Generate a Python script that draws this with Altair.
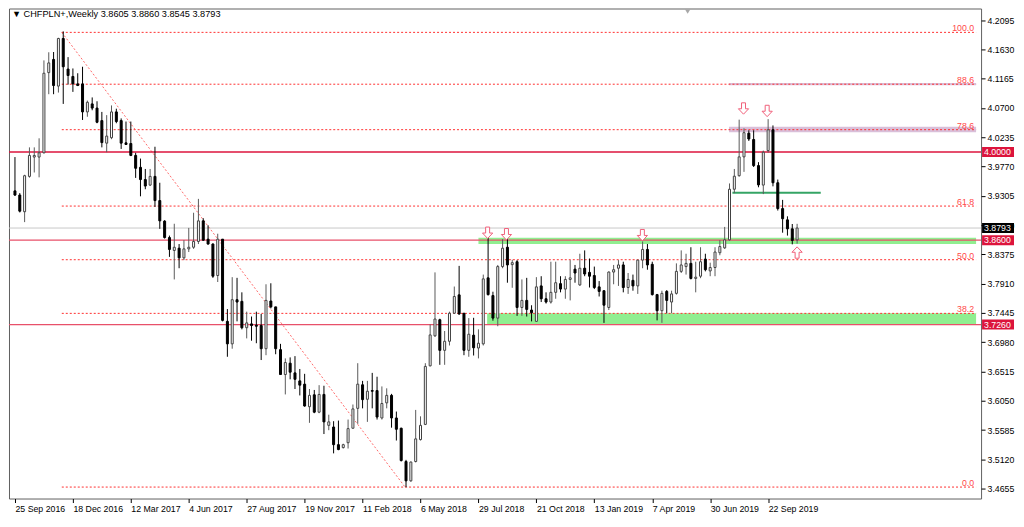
import altair as alt
import pandas as pd

W, H = 974, 491
FONT = "Liberation Sans"

# ---- axis ticks ----
tick_weeks = [0, 12, 24, 36, 48, 60, 72, 84, 96, 108, 120, 132, 144, 156]
tick_labels = ["25 Sep 2016", "18 Dec 2016", "12 Mar 2017", "4 Jun 2017", "27 Aug 2017",
               "19 Nov 2017", "11 Feb 2018", "6 May 2018", "29 Jul 2018", "21 Oct 2018",
               "13 Jan 2019", "7 Apr 2019", "30 Jun 2019", "22 Sep 2019"]
price_ticks = [4.2095, 4.1630, 4.1165, 4.0700, 4.0235, 3.9770, 3.9305, 3.8840, 3.8375,
               3.7910, 3.7445, 3.6980, 3.6515, 3.6050, 3.5585, 3.5120, 3.4655]

# ---- weekly candles CHFPLN (week index 0 = 25 Sep 2016) ----
opens = [3.9383, 3.9317, 3.9052, 3.9613, 3.9920, 3.9920, 3.9988, 4.1261, 4.1470, 4.1047,
         4.1803, 4.1317, 4.1200, 4.1082, 4.1082, 4.0637, 4.0764, 4.0698, 4.0499, 4.0141,
         4.0227, 4.0637, 4.0499, 4.0146, 4.0135, 3.9946, 3.9757, 3.9563, 3.9475, 3.9613,
         3.9229, 3.8903, 3.8642, 3.8437, 3.8473, 3.8320, 3.8462, 3.8488, 3.8580, 3.8907,
         3.8616, 3.8539, 3.8039, 3.8616, 3.7311, 3.6954, 3.7655, 3.7629, 3.7210, 3.7271,
         3.7250, 3.7245, 3.6877, 3.7634, 3.7541, 3.6862, 3.6467, 3.6647, 3.6493, 3.6366,
         3.6314, 3.5956, 3.6145, 3.5869, 3.6151, 3.5660, 3.5634, 3.5353, 3.5307, 3.5384,
         3.5614, 3.5930, 3.6304, 3.6074, 3.6212, 3.6212, 3.5777, 3.6017, 3.6136, 3.5777,
         3.5614, 3.5086, 3.4779, 3.5086, 3.5434, 3.5675, 3.6605, 3.7081, 3.7337, 3.6851,
         3.6995, 3.7440, 3.7732, 3.7440, 3.6851, 3.7092, 3.6888, 3.6954, 3.8002, 3.7721,
         3.7363, 3.8181, 3.8488, 3.8212, 3.8258, 3.7532, 3.7644, 3.7491, 3.7311, 3.7874,
         3.7670, 3.7618, 3.7772, 3.7910, 3.7824, 3.7977, 3.8140, 3.7890, 3.8155, 3.8089,
         3.8039, 3.7859, 3.7798, 3.7532, 3.8094, 3.8155, 3.8207, 3.7849, 3.7962, 3.7874,
         3.8284, 3.8453, 3.8217, 3.7736, 3.7480, 3.7787, 3.7618, 3.7756, 3.8105, 3.8181,
         3.8232, 3.7993, 3.8028, 3.8300, 3.8112, 3.8166, 3.8401, 3.8478, 3.8606, 3.9409,
         3.9624, 3.9923, 4.0299, 4.0199, 3.9785, 3.9475, 4.0023, 4.0353, 3.9512, 3.9102,
         3.8923, 3.8780, 3.8605]
highs = [3.9920, 3.9348, 3.9639, 4.0074, 4.0074, 4.0218, 4.1455, 4.1584, 4.1588, 4.1814,
         4.1915, 4.1507, 4.1327, 4.1251, 4.1354, 4.0817, 4.0867, 4.0806, 4.0637, 4.0586,
         4.0740, 4.0688, 4.0534, 4.0484, 4.0484, 3.9988, 3.9896, 3.9731, 3.9731, 4.0084,
         3.9512, 3.8918, 3.8673, 3.8861, 3.8539, 3.8600, 3.8795, 3.9036, 3.9256, 3.8949,
         3.8837, 3.8550, 3.8703, 3.8616, 3.7506, 3.8013, 3.8002, 3.7772, 3.7465, 3.7388,
         3.7465, 3.7429, 3.7900, 3.7916, 3.7541, 3.6954, 3.6723, 3.6739, 3.6759, 3.6555,
         3.6478, 3.6237, 3.6222, 3.6298, 3.6289, 3.5829, 3.5726, 3.5736, 3.5368, 3.5752,
         3.5991, 3.6647, 3.6366, 3.6366, 3.6493, 3.6432, 3.6278, 3.6248, 3.6160, 3.5879,
         3.5623, 3.5112, 3.5086, 3.5905, 3.5803, 3.6647, 3.7261, 3.8089, 3.7353, 3.7158,
         3.7465, 3.7864, 3.8192, 3.7440, 3.7363, 3.7368, 3.7184, 3.8054, 3.8668, 3.7782,
         3.8207, 3.8616, 3.8642, 3.8289, 3.8284, 3.7977, 3.8002, 3.7567, 3.8013, 3.8028,
         3.7772, 3.8258, 3.8258, 3.8028, 3.8028, 3.8284, 3.8207, 3.8385, 3.8438, 3.8309,
         3.8181, 3.7951, 3.7798, 3.8105, 3.8207, 3.8284, 3.8258, 3.8079, 3.8054, 3.8284,
         3.8580, 3.8539, 3.8258, 3.7747, 3.7798, 3.7808, 3.7798, 3.8232, 3.8438, 3.8385,
         3.8488, 3.8258, 3.8488, 3.8385, 3.8243, 3.8488, 3.8600, 3.8811, 3.9501, 3.9731,
         4.0514, 4.0376, 4.0345, 4.0345, 3.9839, 4.0023, 4.0522, 4.0422, 3.9563, 3.9240,
         3.8979, 3.8857, 3.8860]
lows = [3.9302, 3.9041, 3.8887, 3.9593, 3.9675, 3.9598, 3.9977, 4.0918, 4.0918, 4.0944,
        4.0764, 4.1071, 4.0955, 4.1047, 4.0509, 4.0560, 4.0663, 4.0457, 4.0074, 3.9997,
        4.0203, 4.0457, 4.0049, 4.0115, 3.9935, 3.9589, 3.9297, 3.9409, 3.9460, 3.9128,
        3.8780, 3.8626, 3.8335, 3.7977, 3.8155, 3.8284, 3.8412, 3.8462, 3.8539, 3.8591,
        3.8530, 3.8002, 3.7936, 3.7311, 3.6749, 3.6877, 3.7311, 3.7184, 3.7041, 3.7004,
        3.6964, 3.6697, 3.6774, 3.7517, 3.6789, 3.6467, 3.6151, 3.6391, 3.6237, 3.6135,
        3.5956, 3.5700, 3.5853, 3.5853, 3.5522, 3.5583, 3.5215, 3.5265, 3.5292, 3.5292,
        3.5614, 3.5684, 3.5930, 3.5715, 3.5930, 3.5752, 3.5752, 3.5930, 3.5623, 3.5419,
        3.5086, 3.4678, 3.4764, 3.5071, 3.5419, 3.5664, 3.6596, 3.7066, 3.6621, 3.6621,
        3.6928, 3.7429, 3.7414, 3.6774, 3.6749, 3.6769, 3.6723, 3.6928, 3.7721, 3.7322,
        3.7234, 3.8155, 3.7925, 3.7844, 3.7399, 3.7399, 3.7388, 3.7311, 3.7311, 3.7618,
        3.7594, 3.7594, 3.7670, 3.7772, 3.7670, 3.7644, 3.7925, 3.7874, 3.8028, 3.7849,
        3.7824, 3.7706, 3.7287, 3.7491, 3.7900, 3.7874, 3.7772, 3.7747, 3.7798, 3.7747,
        3.8155, 3.8131, 3.7721, 3.7327, 3.7287, 3.7440, 3.7440, 3.7736, 3.8079, 3.8054,
        3.7977, 3.7772, 3.7997, 3.8105, 3.8028, 3.8028, 3.8361, 3.8462, 3.8596, 3.9348,
        3.9609, 3.9685, 4.0176, 3.9762, 3.9440, 3.9332, 3.9992, 3.9455, 3.9071, 3.8719,
        3.8673, 3.8534, 3.8545]
closes = [3.9317, 3.9061, 3.9624, 3.9946, 3.9946, 3.9988, 4.1251, 4.1415, 4.1056, 4.1803,
          4.1354, 4.1215, 4.1082, 4.1056, 4.0637, 4.0790, 4.0698, 4.0473, 4.0150, 4.0253,
          4.0637, 4.0484, 4.0141, 4.0120, 3.9946, 3.9742, 3.9563, 3.9460, 3.9613, 3.9229,
          3.8907, 3.8642, 3.8453, 3.8488, 3.8320, 3.8462, 3.8488, 3.8580, 3.8907, 3.8600,
          3.8539, 3.8028, 3.8616, 3.7327, 3.6954, 3.7655, 3.7618, 3.7210, 3.7287, 3.7245,
          3.7234, 3.6877, 3.7644, 3.7541, 3.6877, 3.6467, 3.6657, 3.6504, 3.6391, 3.6298,
          3.5967, 3.6136, 3.5869, 3.6151, 3.5715, 3.5715, 3.5353, 3.5276, 3.5353, 3.5608,
          3.5921, 3.6314, 3.6068, 3.6202, 3.6202, 3.5792, 3.6007, 3.6136, 3.5777, 3.5598,
          3.5101, 3.4779, 3.5077, 3.5445, 3.5660, 3.6596, 3.7096, 3.7348, 3.6851, 3.6995,
          3.7440, 3.7706, 3.7429, 3.6851, 3.7107, 3.6892, 3.6964, 3.7986, 3.7736, 3.7363,
          3.8181, 3.8473, 3.8207, 3.8243, 3.7532, 3.7644, 3.7501, 3.7449, 3.7859, 3.7670,
          3.7618, 3.7772, 3.7925, 3.7824, 3.7977, 3.8002, 3.8079, 3.8155, 3.8063, 3.8028,
          3.7849, 3.7787, 3.7568, 3.8094, 3.8131, 3.8207, 3.7849, 3.7977, 3.7874, 3.8284,
          3.8453, 3.8207, 3.7736, 3.7480, 3.7756, 3.7644, 3.7747, 3.8105, 3.8207, 3.8232,
          3.7993, 3.8013, 3.8258, 3.8131, 3.8166, 3.8412, 3.8499, 3.8606, 3.9409, 3.9616,
          3.9923, 4.0307, 4.0207, 3.9785, 3.9478, 3.9997, 4.0353, 3.9512, 3.9102, 3.8941,
          3.8780, 3.8596, 3.8793]

# ---- annotations ----
fib_levels = [100.0, 88.6, 78.6, 61.8, 50.0, 38.2, 0.0]
fib_high, fib_low = 4.1900, 3.4680
fib_start_week, fib_end_week = 9.7, 80.8

level_prices = [4.0000, 3.8600, 3.7260]
level_colors = ["#DC143C", "#E8506A", "#E8506A"]
level_widths = [1.6, 1.2, 1.2]
last_price = 3.8793

zone_start = [96.0, 97.8, 147.9, 147.9]
zone_low = [3.8540, 3.7261, 4.0315, 4.1062]
zone_high = [3.8640, 3.7440, 4.0403, 4.1097]
zone_color = ["#90EE90", "#90EE90", "#D9BFD9", "#D9BFD9"]

support_week = [148.6, 166.9]
support_price = 3.9352

down_arrow_week = [97.9, 101.8, 129.95, 150.9, 155.8]
down_arrow_price = [3.8718, 3.8695, 3.8680, 4.0691, 4.0652]
up_arrow_week = [162.0]
up_arrow_price = [3.8404]

header = "\u25BC CHFPLN+,Weekly  3.8605 3.8860 3.8545 3.8793"

X_MIN, X_MAX = -0.2, 199.07
Y_MIN, Y_MAX = 3.4498, 4.2279

xs = alt.Scale(domain=[X_MIN, X_MAX], nice=False, zero=False)
ys = alt.Scale(domain=[Y_MIN, Y_MAX], nice=False, zero=False)

label_expr = "[" + ",".join("'%s'" % t for t in tick_labels) + "][round(datum.value / 12)]"

x_axis = alt.Axis(values=tick_weeks, labelExpr=label_expr, labelAlign="left", tickSize=4,
                  labelPadding=2, domain=False, grid=False, title=None, labelOverlap=False,
                  labelFlush=False, labelFont=FONT, labelFontSize=8.8, labelColor="#000",
                  tickColor="#000")
y_axis = alt.Axis(orient="right", values=price_ticks, format=".4f", tickSize=4, labelPadding=2,
                  domain=False, grid=False, title=None, labelOverlap=False, labelFont=FONT,
                  labelFontSize=8.8, labelColor="#000", tickColor="#000")

def X(field):
    return alt.X(field, scale=xs, axis=x_axis, title=None)

def Y(field):
    return alt.Y(field, scale=ys, axis=y_axis, title=None)

candles = pd.DataFrame({"week": list(range(len(opens))), "open": opens, "high": highs,
                        "low": lows, "close": closes})
bull = alt.datum.close >= alt.datum.open

wicks = alt.Chart(candles).mark_rule(strokeWidth=1).encode(
    x=X("week:Q"), y=Y("low:Q"), y2="high:Q",
    color=alt.when(bull).then(alt.value("#5A5A5A")).otherwise(alt.value("#000000")))

bodies = alt.Chart(candles).mark_bar(width=2, strokeWidth=1).encode(
    x=X("week:Q"), y=Y("open:Q"), y2="close:Q",
    fill=alt.when(bull).then(alt.value("#FFFFFF")).otherwise(alt.value("#000000")),
    stroke=alt.when(bull).then(alt.value("#404040")).otherwise(alt.value("#000000")))

zones_df = pd.DataFrame({"x0": zone_start, "x1": [X_MAX] * len(zone_start),
                         "lo": zone_low, "hi": zone_high, "c": zone_color})
zones = alt.Chart(zones_df).mark_rect().encode(
    x=X("x0:Q"), x2="x1:Q", y=Y("lo:Q"), y2="hi:Q",
    color=alt.Color("c:N", scale=None))

last_line = alt.Chart(pd.DataFrame({"p": [last_price]})).mark_rule(
    color="#C8C8C8", strokeWidth=1).encode(y=Y("p:Q"))

fib_df = pd.DataFrame({"level": fib_levels})
fib_df["price"] = fib_low + (fib_high - fib_low) * fib_df["level"] / 100.0
fib_df["label"] = fib_df["level"].map(lambda v: "%.1f" % v)
fib_df["x0"] = fib_start_week
fib_df["x1"] = X_MAX
fib_lines = alt.Chart(fib_df).mark_rule(color="#FF3030", strokeWidth=1,
                                        strokeDash=[2, 2]).encode(
    x=X("x0:Q"), x2="x1:Q", y=Y("price:Q"))
fib_text = alt.Chart(fib_df).mark_text(align="right", baseline="alphabetic", dx=-2, dy=-1,
                                       font=FONT, fontSize=8.8, color="#FF4A4A").encode(
    x=X("x1:Q"), y=Y("price:Q"), text="label:N")

diag = alt.Chart(pd.DataFrame({"x0": [fib_start_week], "x1": [fib_end_week],
                               "y0": [fib_high], "y1": [fib_low]})).mark_rule(
    color="#FF6A6A", strokeWidth=1, strokeDash=[2, 2]).encode(
    x=X("x0:Q"), x2="x1:Q", y=Y("y0:Q"), y2="y1:Q")

lvl_df = pd.DataFrame({"p": level_prices, "c": level_colors, "w": level_widths})
levels = alt.Chart(lvl_df).mark_rule().encode(
    y=Y("p:Q"), color=alt.Color("c:N", scale=None),
    strokeWidth=alt.StrokeWidth("w:Q", scale=None))

support = alt.Chart(pd.DataFrame({"x0": [support_week[0]], "x1": [support_week[1]],
                                  "p": [support_price]})).mark_rule(
    color="#35A465", strokeWidth=2).encode(x=X("x0:Q"), x2="x1:Q", y=Y("p:Q"))

DOWN = "M-0.35,-1L0.35,-1L0.35,0.05L0.9,0.05L0,1L-0.9,0.05L-0.35,0.05Z"
UP = "M-0.35,1L0.35,1L0.35,-0.05L0.9,-0.05L0,-1L-0.9,-0.05L-0.35,-0.05Z"
down_arrows = alt.Chart(pd.DataFrame({"w": down_arrow_week, "p": down_arrow_price})).mark_point(
    shape=DOWN, size=130, filled=False, fill="white", fillOpacity=1, stroke="#F0607A",
    strokeWidth=1, opacity=1).encode(x=X("w:Q"), y=Y("p:Q"))
up_arrows = alt.Chart(pd.DataFrame({"w": up_arrow_week, "p": up_arrow_price})).mark_point(
    shape=UP, size=130, filled=False, fill="white", fillOpacity=1, stroke="#F0607A",
    strokeWidth=1, opacity=1).encode(x=X("w:Q"), y=Y("p:Q"))

box_df = pd.DataFrame({"p": level_prices + [last_price],
                       "t": ["%.4f" % v for v in level_prices + [last_price]],
                       "c": ["#DC143C", "#DC143C", "#DC143C", "#000000"]})
boxes = alt.Chart(box_df).mark_rect(yOffset=-5, y2Offset=5).encode(
    x=alt.value(W + 1), x2=alt.value(W + 33), y=Y("p:Q"), y2="p:Q",
    color=alt.Color("c:N", scale=None))
box_text = alt.Chart(box_df).mark_text(align="left", baseline="middle", font=FONT,
                                       fontSize=8.8, color="white").encode(
    x=alt.value(W + 3), y=Y("p:Q"), text="t:N")

head = alt.Chart(pd.DataFrame({"t": [header]})).mark_text(
    align="left", baseline="middle", font=FONT, fontSize=9.2, color="#000").encode(
    x=alt.value(3), y=alt.value(6), text="t:N")
shift_mark = alt.Chart(pd.DataFrame({"a": [0]})).mark_point(
    shape="triangle-down", size=30, filled=True, color="#A8A8A8", opacity=1).encode(
    x=alt.value(680), y=alt.value(3))

chart = alt.layer(
    zones, last_line, fib_lines, diag, levels, support, wicks, bodies,
    down_arrows, up_arrows, fib_text, boxes, box_text, head, shift_mark
).properties(
    width=W, height=H, padding={"left": 0, "top": 0, "right": 2, "bottom": 0},
    background="white"
).configure_view(stroke="#606060", strokeWidth=1)

chart.save("out.html", embed_options={"renderer": "svg", "actions": False})
